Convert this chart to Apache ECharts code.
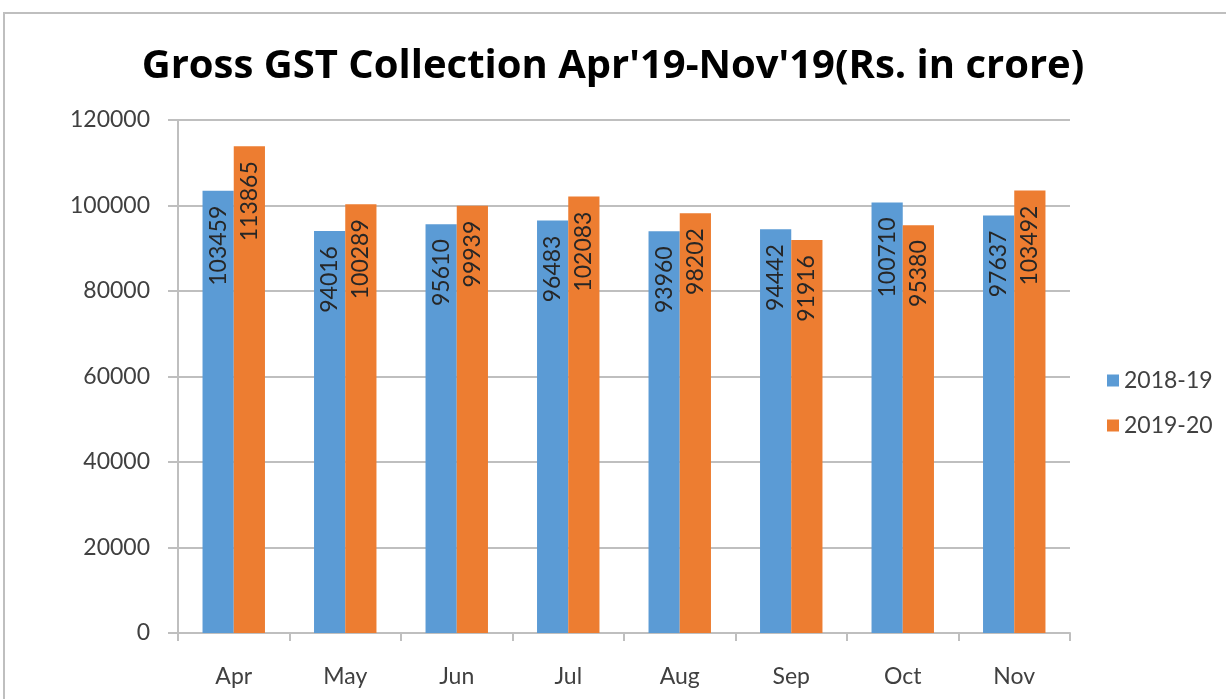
<!DOCTYPE html>
<html>
<head>
<meta charset="utf-8">
<script src="https://cdn.jsdelivr.net/npm/echarts@6/dist/echarts.min.js"></script>
<style>
  html, body { margin: 0; padding: 0; background: #fff; }
  #chart { width: 1226px; height: 699px; }
</style>
</head>
<body>
<div id="chart"></div>
<script>
// data
const months = ["Apr", "May", "Jun", "Jul", "Aug", "Sep", "Oct", "Nov"];
const gst1819 = [103459, 94016, 95610, 96483, 93960, 94442, 100710, 97637];
const gst1920 = [113865, 100289, 99939, 102083, 98202, 91916, 95380, 103492];
const seriesNames = ["2018-19", "2019-20"];

const chart = echarts.init(document.getElementById("chart"));
const FONT = "Lato, 'Liberation Sans', sans-serif";

// label sits at the top of the bar, reading bottom to top
const barLabel = {
  show: true,
  position: "insideTop",
  rotate: 90,
  align: "right",
  verticalAlign: "middle",
  distance: 15,
  color: "#262626",
  fontSize: 23,
  fontFamily: FONT,
};

chart.setOption({
  animation: false,
  title: {
    text: "Gross GST Collection Apr'19-Nov'19(Rs. in crore)",
    left: "center",
    top: 42,
    textStyle: {
      fontFamily: "'Open Sans', sans-serif",
      fontWeight: "bold",
      fontSize: 40,
      color: "#000",
    },
  },
  legend: {
    orient: "vertical",
    left: 1102,
    top: 364,
    itemWidth: 12,
    itemHeight: 12,
    itemGap: 22,
    icon: "rect",
    data: seriesNames,
    textStyle: { fontFamily: FONT, fontSize: 23, color: "#404040" },
  },
  grid: { left: 178, right: 156, top: 120, bottom: 66 },
  xAxis: {
    type: "category",
    data: months,
    axisLine: { lineStyle: { color: "#bfbfbf", width: 2 } },
    axisTick: { show: true, length: 8, lineStyle: { color: "#bfbfbf", width: 2 } },
    axisLabel: { margin: 32, fontFamily: FONT, fontSize: 23, color: "#404040" },
  },
  yAxis: {
    type: "value",
    min: 0,
    max: 120000,
    interval: 20000,
    axisLine: { show: true, lineStyle: { color: "#bfbfbf", width: 2 } },
    axisTick: { show: true, length: 10, lineStyle: { color: "#bfbfbf", width: 2 } },
    axisLabel: {
      margin: 28,
      fontFamily: FONT,
      fontSize: 23,
      color: "#404040",
      formatter: (v) => String(v),
    },
    splitLine: { lineStyle: { color: "#bfbfbf", width: 2 } },
  },
  graphic: [
    {
      type: "rect",
      shape: { x: 4, y: 13, width: 1240, height: 720 },
      style: { fill: "none", stroke: "#bfbfbf", lineWidth: 2 },
      z: -10,
    },
  ],
  series: [
    {
      name: seriesNames[0],
      type: "bar",
      data: gst1819,
      barGap: "0%",
      barCategoryGap: "44%",
      itemStyle: { color: "#5b9bd5" },
      label: barLabel,
    },
    {
      name: seriesNames[1],
      type: "bar",
      data: gst1920,
      itemStyle: { color: "#ed7d31" },
      label: barLabel,
    },
  ],
});
</script>
</body>
</html>
